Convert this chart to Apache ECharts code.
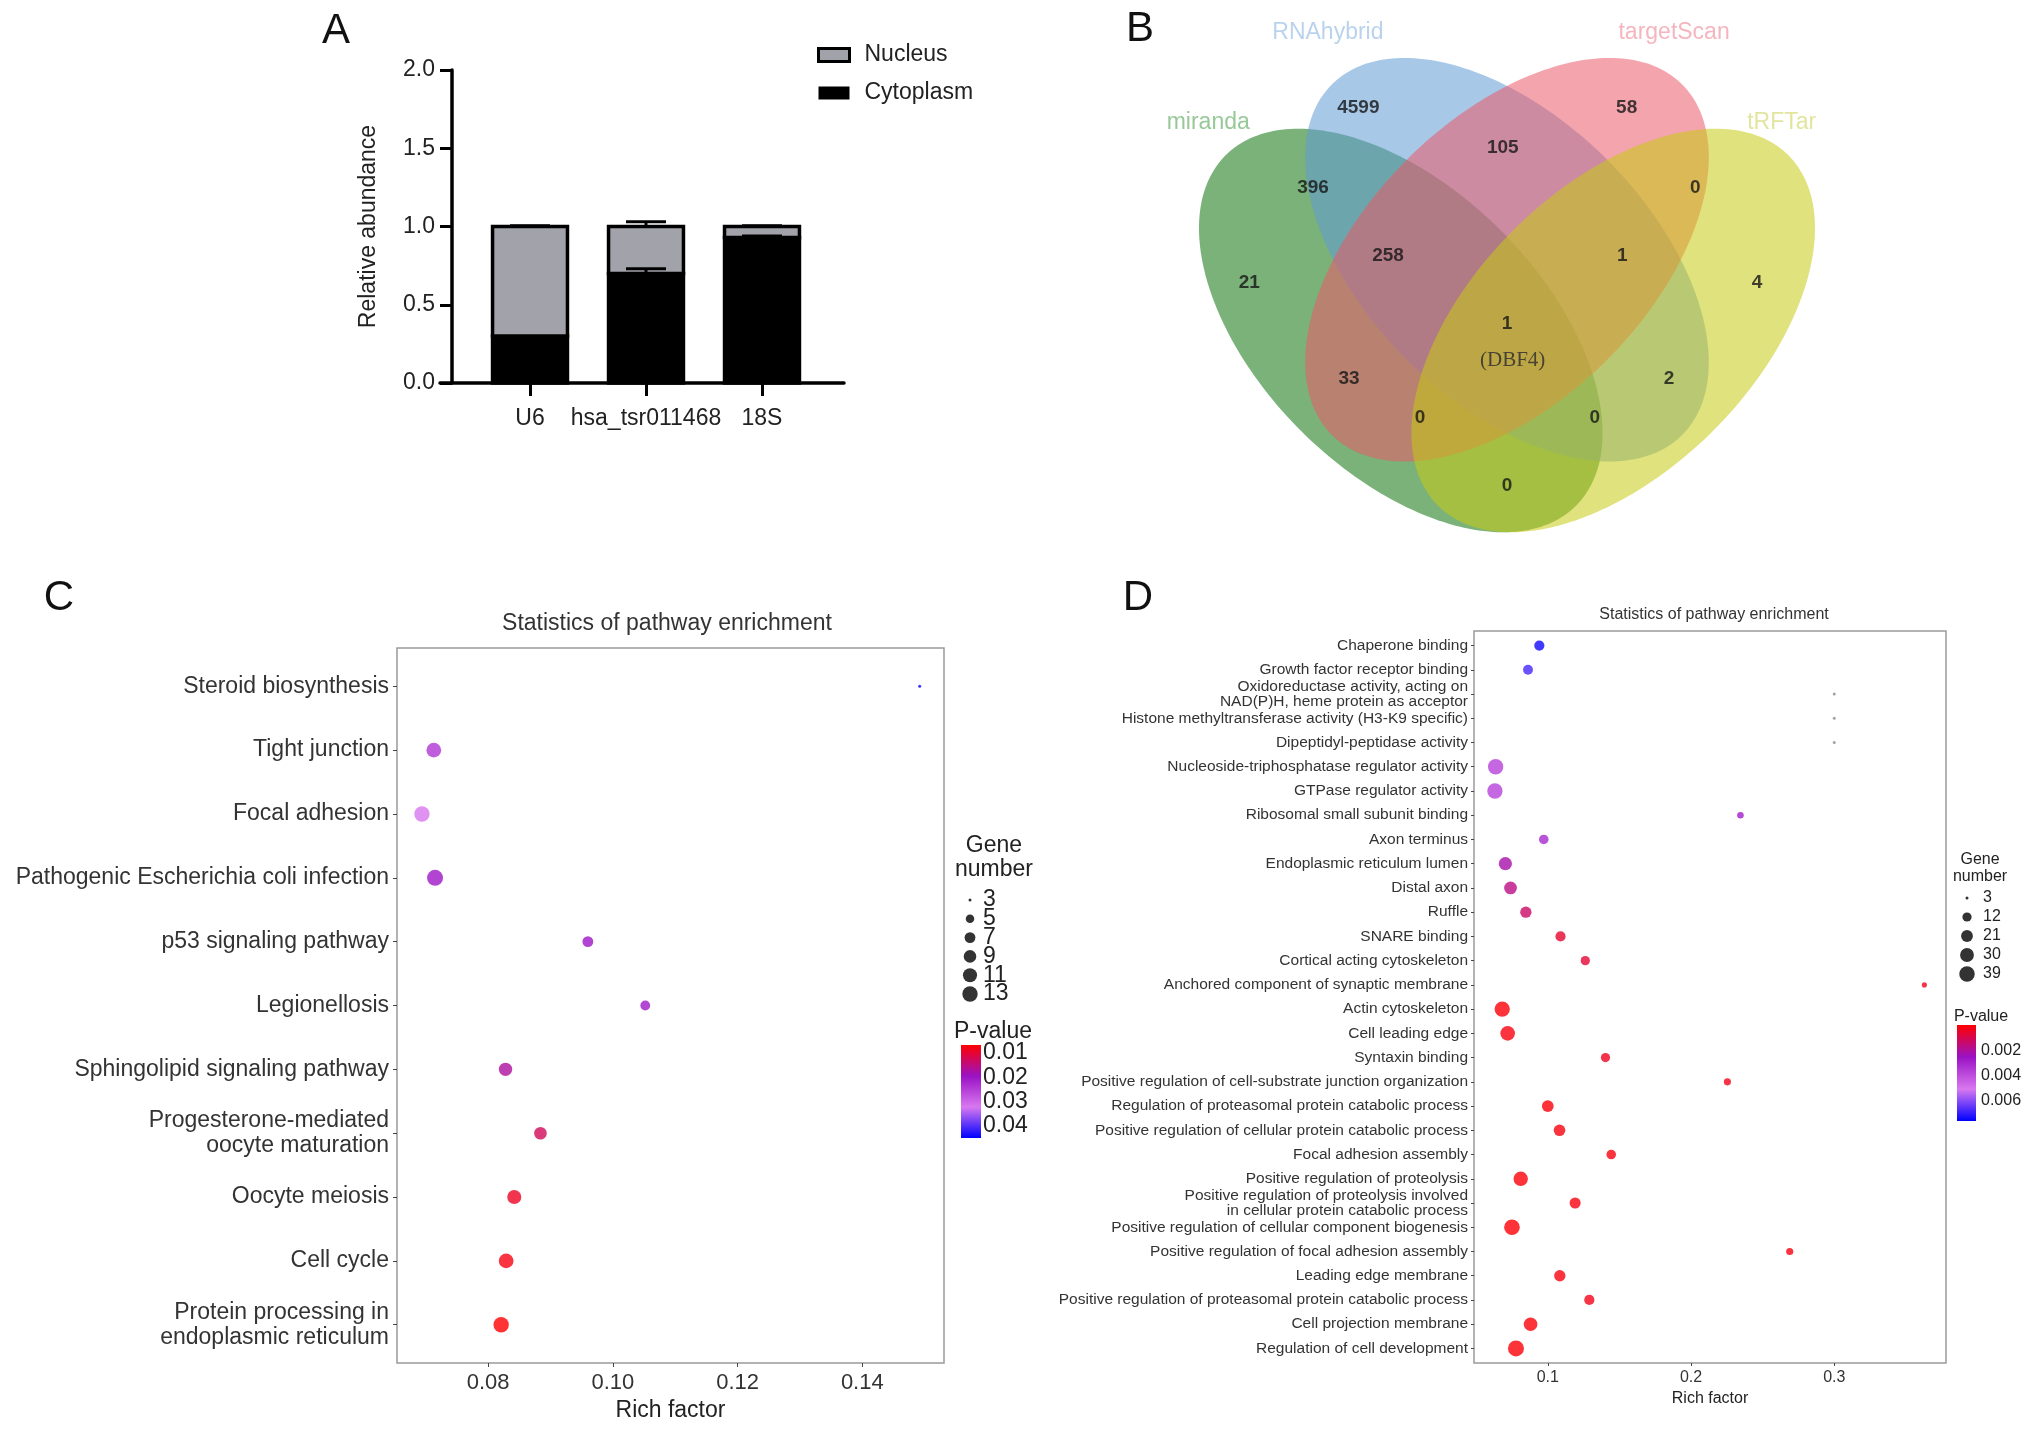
<!DOCTYPE html>
<html><head><meta charset="utf-8">
<script src="https://cdn.jsdelivr.net/npm/echarts@6/dist/echarts.min.js"></script>
<style>html,body{margin:0;padding:0;background:#fff}#main{width:2032px;height:1429px}</style>
</head><body><div id="main"></div>
<script>
// ================= DATA =================
// Panel A
const aCategories = ['U6', 'hsa_tsr011468', '18S'];
const aCytoplasm = [0.30, 0.70, 0.93];
const aNucleus = [0.70, 0.30, 0.07];
const aCytoplasmErr = [0.0, 0.03, 0.01];
const aNucleusErr = [0.005, 0.03, 0.005];
const aYTicks = [0, 0.5, 1.0, 1.5, 2.0];

// Panel B (Venn)
const vennSetNames = ['miranda', 'RNAhybrid', 'targetScan', 'tRFTar'];
const vennRegions = ['miranda', 'RNAhybrid', 'targetScan', 'tRFTar',
  'miranda&RNAhybrid', 'RNAhybrid&targetScan', 'targetScan&tRFTar',
  'miranda&RNAhybrid&targetScan', 'RNAhybrid&targetScan&tRFTar', 'all four',
  'miranda&targetScan', 'RNAhybrid&tRFTar', 'miranda&targetScan&tRFTar',
  'miranda&RNAhybrid&tRFTar', 'miranda&tRFTar'];
const vennCounts = [21, 4599, 58, 4, 396, 105, 0, 258, 1, 1, 33, 2, 0, 0, 0];
const vennSharedGene = '(DBF4)';

// Panel C
const cPathways = ['Steroid biosynthesis', 'Tight junction', 'Focal adhesion',
  'Pathogenic Escherichia coli infection', 'p53 signaling pathway', 'Legionellosis',
  'Sphingolipid signaling pathway', 'Progesterone-mediated\noocyte maturation',
  'Oocyte meiosis', 'Cell cycle', 'Protein processing in\nendoplasmic reticulum'];
const cRichFactor = [0.1492, 0.0713, 0.0694, 0.0715, 0.0960, 0.1052, 0.0828, 0.0884, 0.0842, 0.0829, 0.0821];
const cGeneNumber = [3, 12, 13, 14, 7, 6, 10, 9, 11, 12, 13];
const cPValue = [0.0449, 0.024, 0.032, 0.020, 0.020, 0.0205, 0.0170, 0.0125, 0.009, 0.0078, 0.0067];
const cXTicks = [0.08, 0.10, 0.12, 0.14];
const cSizeBreaks = [3, 5, 7, 9, 11, 13];
const cPBreaks = [0.01, 0.02, 0.03, 0.04];

// Panel D
const dTerms = ['Chaperone binding', 'Growth factor receptor binding',
  'Oxidoreductase activity, acting on\nNAD(P)H, heme protein as acceptor',
  'Histone methyltransferase activity (H3-K9 specific)', 'Dipeptidyl-peptidase activity',
  'Nucleoside-triphosphatase regulator activity', 'GTPase regulator activity',
  'Ribosomal small subunit binding', 'Axon terminus', 'Endoplasmic reticulum lumen',
  'Distal axon', 'Ruffle', 'SNARE binding', 'Cortical acting cytoskeleton',
  'Anchored component of synaptic membrane', 'Actin cytoskeleton', 'Cell leading edge',
  'Syntaxin binding', 'Positive regulation of cell-substrate junction organization',
  'Regulation of proteasomal protein catabolic process',
  'Positive regulation of cellular protein catabolic process', 'Focal adhesion assembly',
  'Positive regulation of proteolysis',
  'Positive regulation of proteolysis involved\nin cellular protein catabolic process',
  'Positive regulation of cellular component biogenesis',
  'Positive regulation of focal adhesion assembly', 'Leading edge membrane',
  'Positive regulation of proteasomal protein catabolic process',
  'Cell projection membrane', 'Regulation of cell development'];
const dRichFactor = [0.0941, 0.0862, 0.300, 0.300, 0.300, 0.0636, 0.0631, 0.2345, 0.0972, 0.0704,
  0.0740, 0.0847, 0.1089, 0.1262, 0.3629, 0.0682, 0.0720, 0.1403, 0.2254, 0.1000,
  0.1082, 0.1443, 0.0811, 0.1191, 0.0750, 0.2689, 0.1084, 0.1290, 0.0880, 0.0778];
const dGeneNumber = [15, 14, 3, 3, 3, 38, 38, 6, 13, 27, 25, 19, 15, 12, 4, 38, 34, 12, 7, 21,
  20, 13, 33, 18, 40, 7, 19, 15, 29, 42];
const dPValue = [0.0074, 0.0068, null, null, null, 0.0037, 0.0037, 0.0028, 0.0031, 0.0022,
  0.0017, 0.0013, 0.0006, 0.0007, 0.0003, 0.0001, 0.0002, 0.0004, 0.0003, 0.0001,
  0.0002, 0.0002, 0.0001, 0.0002, 0.0001, 0.0002, 0.0002, 0.0003, 0.0001, 0.0001];
const dXTicks = [0.1, 0.2, 0.3];
const dSizeBreaks = [3, 12, 21, 30, 39];
const dPBreaks = [0.002, 0.004, 0.006];

// ================= LAYOUT / STYLE =================
const FONT = '"Liberation Sans", Arial, Helvetica, sans-serif';
const palette = ['#ff0000', '#9a12c4', '#d878f0', '#0000ff'];
const cPRange = [0.0067, 0.0449];
const dPRange = [0, 0.0076];
const sizeScale = (vmin, vmax, dmin, dmax) => g => dmin + (dmax - dmin) * Math.sqrt(Math.max(0, g - vmin) / (vmax - vmin));
const cSize = sizeScale(3, 14, 3, 16);
const dSize = sizeScale(3, 42, 3, 16);

const vennEllipses = [
  [0.35, 0.47, 0.35, 0.20, -45],
  [0.50, 0.57, 0.35, 0.20, -45],
  [0.50, 0.57, 0.35, 0.20, 45],
  [0.65, 0.47, 0.35, 0.20, 45]
];
const vennFill = ['rgba(13,115,13,0.55)', 'rgba(97,155,213,0.55)', 'rgba(235,90,104,0.55)', 'rgba(199,202,19,0.55)'];
const vennTextColor = ['#7dba7d', '#a9c8e8', '#f2a2ae', '#d9de85'];
const vennLabelPos = [[0.136, 0.537], [0.290, 0.785], [0.669, 0.785], [0.853, 0.537],
  [0.226, 0.671], [0.494, 0.728], [0.766, 0.671], [0.332, 0.576], [0.663, 0.576],
  [0.500, 0.479], [0.277, 0.402], [0.729, 0.402], [0.377, 0.347], [0.624, 0.347], [0.500, 0.250]];
const vennSetLabelPos = [[0.078, 0.763], [0.247, 0.891], [0.736, 0.891], [0.888, 0.763]];
const vennGenePos = [0.508, 0.428];

const idx = n => Array.from({length: n}, (_, i) => i);
const hiddenAxis = (gi, min, max) => ({gridIndex: gi, type: 'value', min, max, show: false});

function gradientFill() {
  return new echarts.graphic.LinearGradient(0, 0, 0, 1,
    palette.map((c, i) => ({offset: i / (palette.length - 1), color: c})));
}
function colorbarRender(params, api) {
  const p0 = api.coord([api.value(0), api.value(1)]);
  const p1 = api.coord([api.value(2), api.value(3)]);
  return {type: 'rect', shape: {x: Math.min(p0[0], p1[0]), y: Math.min(p0[1], p1[1]),
    width: Math.abs(p1[0] - p0[0]), height: Math.abs(p1[1] - p0[1])}, style: {fill: gradientFill()}};
}
const barHalf = 0.323;
function barRender(fill) {
  return (params, api) => {
    const x = api.value(0), y0 = api.value(1), y1 = api.value(2);
    const a = api.coord([x - barHalf, y1]);
    const b = api.coord([x + barHalf, y0]);
    return {type: 'rect', shape: {x: a[0], y: a[1], width: b[0] - a[0], height: b[1] - a[1]},
      style: {fill: fill, stroke: '#000', lineWidth: 3.5}};
  };
}
function errRender(params, api) {
  const x = api.value(0), top = api.value(1), err = api.value(2);
  if (!err) return null;
  const p0 = api.coord([x, top]);
  const p1 = api.coord([x, top + err]);
  return {type: 'group', children: [
    {type: 'line', shape: {x1: p0[0], y1: p0[1], x2: p1[0], y2: p1[1]}, style: {stroke: '#000', lineWidth: 3}},
    {type: 'line', shape: {x1: p1[0] - 20, y1: p1[1], x2: p1[0] + 20, y2: p1[1]}, style: {stroke: '#000', lineWidth: 3}}
  ]};
}
function ellipseRender(params, api) {
  const cx = api.value(0), cy = api.value(1), a = api.value(2), b = api.value(3);
  const r = api.value(4) * Math.PI / 180;
  const pts = [];
  for (let k = 0; k < 240; k++) {
    const t = k / 240 * 2 * Math.PI;
    const x = cx + a * Math.cos(t) * Math.cos(r) - b * Math.sin(t) * Math.sin(r);
    const y = cy + a * Math.cos(t) * Math.sin(r) + b * Math.sin(t) * Math.cos(r);
    pts.push(api.coord([x, y]));
  }
  return {type: 'polygon', shape: {points: pts}, style: {fill: vennFill[params.dataIndex]}};
}

const txtCol = '#333';
const option = {
  animation: false,
  backgroundColor: '#ffffff',
  textStyle: {fontFamily: FONT},
  grid: [
    {left: 440, top: 70, width: 404, height: 313},
    {left: 1153, top: 12, width: 708, height: 545},
    {left: 397, top: 648, width: 547, height: 715, show: true, borderColor: '#9a9a9a', borderWidth: 1.5, backgroundColor: 'transparent'},
    {left: 960, top: 890.6, width: 20, height: 112.8},
    {left: 961, top: 1045, width: 20, height: 93},
    {left: 1474, top: 631, width: 472, height: 732, show: true, borderColor: '#9a9a9a', borderWidth: 1.5, backgroundColor: 'transparent'},
    {left: 1957, top: 888.5, width: 20, height: 95},
    {left: 1957, top: 1025, width: 19, height: 96}
  ],
  xAxis: [
    {gridIndex: 0, type: 'value', min: -0.776, max: 2.707, splitLine: {show: false},
      axisLine: {show: true, onZero: false, lineStyle: {color: '#000', width: 3.5}},
      axisTick: {show: true, customValues: [0, 1, 2], length: 13, lineStyle: {color: '#000', width: 3}},
      axisLabel: {customValues: [0, 1, 2], formatter: v => aCategories[Math.round(v)], fontSize: 23, color: '#222', margin: 24}},
    hiddenAxis(1, 0, 1),
    {gridIndex: 2, type: 'value', min: 0.0654, max: 0.1531, splitLine: {show: false},
      axisLine: {show: false, onZero: false},
      axisTick: {show: true, customValues: cXTicks, length: 4, lineStyle: {color: '#444'}},
      axisLabel: {customValues: cXTicks, formatter: v => v.toFixed(2), fontSize: 22, color: txtCol, margin: 9},
      name: 'Rich factor', nameLocation: 'middle', nameGap: 34, nameTextStyle: {fontSize: 23, color: '#222'}},
    hiddenAxis(3, 0, 1),
    hiddenAxis(4, 0, 1),
    {gridIndex: 5, type: 'value', min: 0.0485, max: 0.378, splitLine: {show: false},
      axisLine: {show: false, onZero: false},
      axisTick: {show: true, customValues: dXTicks, length: 3, lineStyle: {color: '#444'}},
      axisLabel: {customValues: dXTicks, formatter: v => v.toFixed(1), fontSize: 16, color: txtCol, margin: 7},
      name: 'Rich factor', nameLocation: 'middle', nameGap: 24, nameTextStyle: {fontSize: 16, color: '#222'}},
    hiddenAxis(6, 0, 1),
    hiddenAxis(7, 0, 1)
  ],
  yAxis: [
    {gridIndex: 0, type: 'value', min: 0, max: 2, offset: -12, splitLine: {show: false},
      axisLine: {show: true, onZero: false, lineStyle: {color: '#000', width: 3.5}},
      axisTick: {show: true, customValues: aYTicks, length: 12, lineStyle: {color: '#000', width: 3}},
      axisLabel: {customValues: aYTicks, formatter: v => v.toFixed(1), fontSize: 23, color: '#222', margin: 17},
      name: 'Relative abundance', nameLocation: 'middle', nameRotate: 90, nameGap: 72,
      nameTextStyle: {fontSize: 23, color: '#222'}},
    hiddenAxis(1, 0.15, 0.92),
    {gridIndex: 2, type: 'value', inverse: true, min: -0.6, max: cPathways.length - 0.4, splitLine: {show: false},
      axisLine: {show: false, onZero: false},
      axisTick: {show: true, customValues: idx(cPathways.length), length: 4, lineStyle: {color: '#444'}},
      axisLabel: {customValues: idx(cPathways.length), formatter: v => cPathways[Math.round(v)],
        fontSize: 23, color: txtCol, margin: 8, lineHeight: 25, align: 'right'}},
    {gridIndex: 3, type: 'category', inverse: true, position: 'right', data: cSizeBreaks.map(String),
      axisLine: {show: false}, axisTick: {show: false},
      axisLabel: {interval: 0, fontSize: 23, color: '#222', margin: 3}},
    {gridIndex: 4, type: 'value', inverse: true, position: 'right', min: cPRange[0], max: cPRange[1],
      splitLine: {show: false}, axisLine: {show: false}, axisTick: {show: false},
      axisLabel: {customValues: cPBreaks, formatter: v => v.toFixed(2), fontSize: 23, color: '#222', margin: 2}},
    {gridIndex: 5, type: 'value', inverse: true, min: -0.6, max: dTerms.length - 0.4, splitLine: {show: false},
      axisLine: {show: false, onZero: false},
      axisTick: {show: true, customValues: idx(dTerms.length), length: 3, lineStyle: {color: '#444'}},
      axisLabel: {customValues: idx(dTerms.length), formatter: v => dTerms[Math.round(v)],
        fontSize: 15.5, color: txtCol, margin: 6, lineHeight: 15, align: 'right'}},
    {gridIndex: 6, type: 'category', inverse: true, position: 'right', data: dSizeBreaks.map(String),
      axisLine: {show: false}, axisTick: {show: false},
      axisLabel: {interval: 0, fontSize: 16, color: '#222', margin: 6}},
    {gridIndex: 7, type: 'value', inverse: true, position: 'right', min: dPRange[0], max: dPRange[1],
      splitLine: {show: false}, axisLine: {show: false}, axisTick: {show: false},
      axisLabel: {customValues: dPBreaks, formatter: v => v.toFixed(3), fontSize: 16, color: '#222', margin: 5}}
  ],
  legend: {
    orient: 'vertical', left: 812, top: 38, itemWidth: 31, itemHeight: 13, itemGap: 14,
    selectedMode: false,
    textStyle: {fontSize: 23, color: '#222', lineHeight: 24, padding: [0, 0, 0, 10]},
    data: [
      {name: 'Nucleus', icon: 'rect', itemStyle: {color: '#a2a2aa', borderColor: '#000', borderWidth: 3}},
      {name: 'Cytoplasm', icon: 'rect', itemStyle: {color: '#000', borderColor: '#000', borderWidth: 0}}
    ]
  },
  visualMap: [
    {type: 'continuous', show: false, seriesIndex: 7, dimension: 2, min: cPRange[0], max: cPRange[1], inRange: {color: palette}},
    {type: 'continuous', show: false, seriesIndex: 10, dimension: 2, min: dPRange[0], max: dPRange[1], inRange: {color: palette}}
  ],
  series: [
    {type: 'custom', name: 'Cytoplasm', xAxisIndex: 0, yAxisIndex: 0, itemStyle: {color: '#000'},
      data: aCategories.map((c, i) => [i, 0, aCytoplasm[i]]), renderItem: barRender('#000'), encode: {x: 0, y: 2}},
    {type: 'custom', name: 'Nucleus', xAxisIndex: 0, yAxisIndex: 0, itemStyle: {color: '#a2a2aa'},
      data: aCategories.map((c, i) => [i, aCytoplasm[i], aCytoplasm[i] + aNucleus[i]]), renderItem: barRender('#a2a2aa'), encode: {x: 0, y: 2}},
    {type: 'custom', xAxisIndex: 0, yAxisIndex: 0,
      data: aCategories.map((c, i) => [i, aCytoplasm[i], aCytoplasmErr[i]]).concat(
        aCategories.map((c, i) => [i, aCytoplasm[i] + aNucleus[i], aNucleusErr[i]])),
      renderItem: errRender, encode: {x: 0, y: 1}},
    {type: 'custom', xAxisIndex: 1, yAxisIndex: 1, data: vennEllipses, renderItem: ellipseRender, encode: {x: 0, y: 1}, silent: true},
    {type: 'scatter', xAxisIndex: 1, yAxisIndex: 1, symbolSize: 1, itemStyle: {color: 'rgba(0,0,0,0)'}, silent: true,
      data: vennCounts.map((c, i) => ({name: String(c), value: vennLabelPos[i]})),
      label: {show: true, position: 'inside', formatter: '{b}', fontSize: 19, fontWeight: 'bold', color: '#151515'}},
    {type: 'scatter', xAxisIndex: 1, yAxisIndex: 1, symbolSize: 1, itemStyle: {color: 'rgba(0,0,0,0)'}, silent: true,
      data: vennSetNames.map((s, i) => ({name: s, value: vennSetLabelPos[i], label: {color: vennTextColor[i]}})),
      label: {show: true, position: 'inside', formatter: '{b}', fontSize: 23}},
    {type: 'scatter', xAxisIndex: 1, yAxisIndex: 1, symbolSize: 1, itemStyle: {color: 'rgba(0,0,0,0)'}, silent: true,
      data: [{name: vennSharedGene, value: vennGenePos}],
      label: {show: true, position: 'inside', formatter: '{b}', fontSize: 21, color: '#2a2a2a', fontFamily: '"Liberation Serif", "Times New Roman", serif'}},
    {type: 'scatter', xAxisIndex: 2, yAxisIndex: 2, silent: true, encode: {x: 0, y: 1},
      data: cPathways.map((n, i) => [cRichFactor[i], i, cPValue[i], cGeneNumber[i]]),
      symbolSize: v => cSize(v[3])},
    {type: 'scatter', xAxisIndex: 3, yAxisIndex: 3, silent: true, itemStyle: {color: '#000'},
      data: cSizeBreaks.map((g, i) => [0.5, i, g]), symbolSize: v => cSize(v[2])},
    {type: 'custom', xAxisIndex: 4, yAxisIndex: 4, silent: true, data: [[0, cPRange[0], 1, cPRange[1]]], renderItem: colorbarRender},
    {type: 'scatter', xAxisIndex: 5, yAxisIndex: 5, silent: true, encode: {x: 0, y: 1},
      data: dTerms.map((n, i) => [dRichFactor[i], i, dPValue[i], dGeneNumber[i]]).filter(d => d[2] !== null),
      symbolSize: v => dSize(v[3])},
    {type: 'scatter', xAxisIndex: 5, yAxisIndex: 5, silent: true, encode: {x: 0, y: 1}, itemStyle: {color: '#8c8c8c'},
      data: dTerms.map((n, i) => [dRichFactor[i], i, dPValue[i], dGeneNumber[i]]).filter(d => d[2] === null),
      symbolSize: v => dSize(v[3])},
    {type: 'scatter', xAxisIndex: 6, yAxisIndex: 6, silent: true, itemStyle: {color: '#000'},
      data: dSizeBreaks.map((g, i) => [0.5, i, g]), symbolSize: v => dSize(v[2])},
    {type: 'custom', xAxisIndex: 7, yAxisIndex: 7, silent: true, data: [[0, dPRange[0], 1, dPRange[1]]], renderItem: colorbarRender}
  ],
  graphic: [
    {type: 'text', x: 336, y: 31, style: {text: 'A', font: '42px ' + FONT, fill: '#111', align: 'center', verticalAlign: 'middle'}},
    {type: 'text', x: 1140, y: 29, style: {text: 'B', font: '42px ' + FONT, fill: '#111', align: 'center', verticalAlign: 'middle'}},
    {type: 'text', x: 59, y: 598, style: {text: 'C', font: '42px ' + FONT, fill: '#111', align: 'center', verticalAlign: 'middle'}},
    {type: 'text', x: 1138, y: 598, style: {text: 'D', font: '42px ' + FONT, fill: '#111', align: 'center', verticalAlign: 'middle'}},
    {type: 'text', x: 667, y: 624, style: {text: 'Statistics of pathway enrichment', font: '23px ' + FONT, fill: '#333', align: 'center', verticalAlign: 'middle'}},
    {type: 'text', x: 1714, y: 615, style: {text: 'Statistics of pathway enrichment', font: '16px ' + FONT, fill: '#333', align: 'center', verticalAlign: 'middle'}},
    {type: 'text', x: 994, y: 858, style: {text: 'Gene\nnumber', font: '23px ' + FONT, fill: '#222', align: 'center', verticalAlign: 'middle', lineHeight: 24}},
    {type: 'text', x: 993, y: 1032, style: {text: 'P-value', font: '23px ' + FONT, fill: '#222', align: 'center', verticalAlign: 'middle'}},
    {type: 'text', x: 1980, y: 868, style: {text: 'Gene\nnumber', font: '16px ' + FONT, fill: '#222', align: 'center', verticalAlign: 'middle', lineHeight: 17}},
    {type: 'text', x: 1981, y: 1017, style: {text: 'P-value', font: '16px ' + FONT, fill: '#222', align: 'center', verticalAlign: 'middle'}}
  ]
};
const chart = echarts.init(document.getElementById('main'), null, {renderer: 'canvas'});
chart.setOption(option);
</script>
</body></html>
